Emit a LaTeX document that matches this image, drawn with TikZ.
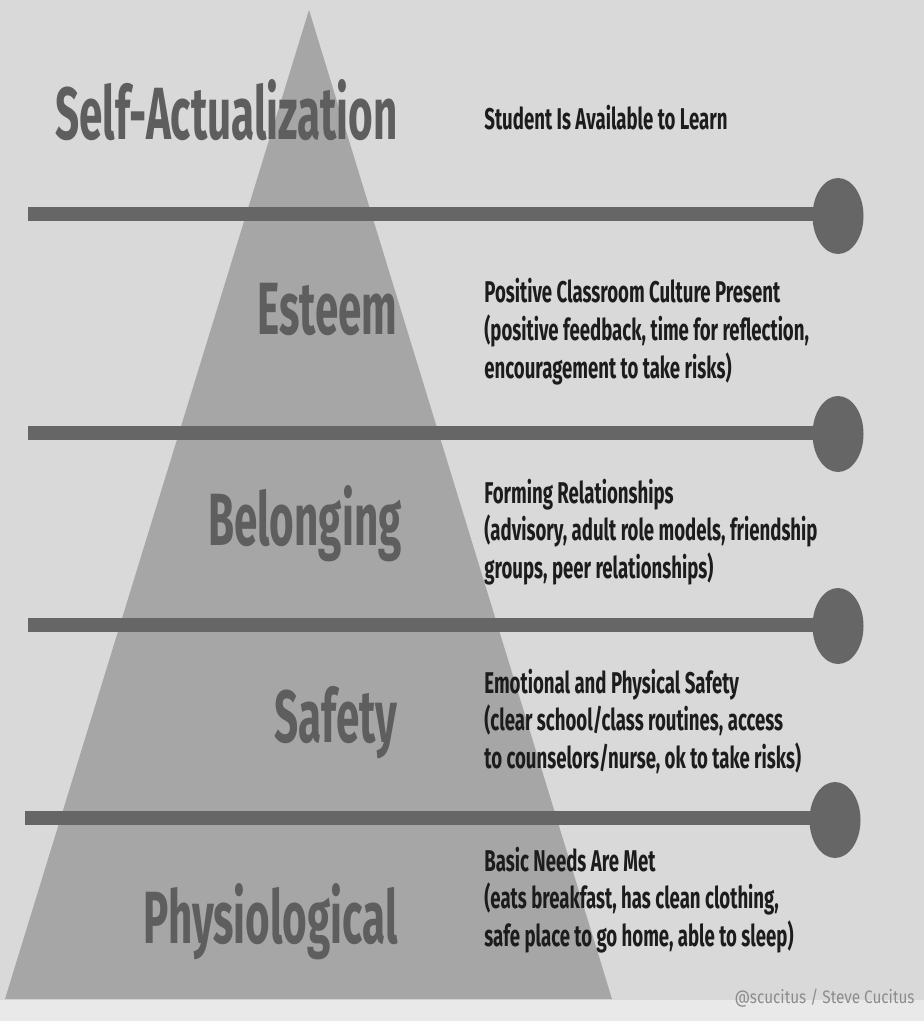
\documentclass[tikz,border=0pt]{standalone}
\usepackage{xcolor}
\usepackage{fontspec}
\usepackage{tikz}
\usetikzlibrary{calc,shapes.geometric}

\newfontfamily\headfont[FakeStretch=0.57]{Fira Sans}
\newfontfamily\notefont[FakeStretch=0.62]{Fira Sans}
\newfontfamily\creditfont[FakeStretch=0.85]{Fira Sans}

\definecolor{paper}{HTML}{D9D9D9}
\definecolor{strip}{HTML}{E9E9E9}
\definecolor{pyramid}{HTML}{A6A6A6}
\definecolor{railgray}{HTML}{666666}
\definecolor{headgray}{HTML}{5E5E5E}
\definecolor{notegray}{HTML}{1C1C1C}
\definecolor{creditgray}{HTML}{8C8C8C}

\tikzset{
  rail/.style={draw=railgray, line width=7pt},
  knob/.style={ellipse, fill=railgray, inner sep=0pt, minimum width=25.5pt, minimum height=38pt},
  level/.style={anchor=base east, inner sep=0pt, text=headgray, font=\headfont\bfseries\fontsize{37}{42}\selectfont},
  note/.style={anchor=base west, inner sep=0pt, align=left, text=notegray, font=\notefont\bfseries\fontsize{15}{18.75}\selectfont},
}

\begin{document}
\begin{tikzpicture}[x=0.5pt, y=-0.5pt]
\def\Left{28}
\def\Knob{838}
\def\Text{484}
\def\Edge{398}
  \path
    (0,0) coordinate (NW)
    (924,1021) coordinate (SE)
    (309,10) coordinate (A)
    (5,999) coordinate (B)
    (612,999) coordinate (C)
    (\Left,214) coordinate (r1)
    (\Left,433) coordinate (r2)
    (\Left,625) coordinate (r3)
    (25,818) coordinate (r4)
  ;
\useasboundingbox (NW) rectangle (SE);
\fill[paper] (NW) rectangle (SE);
\fill[strip] (0,1000) rectangle (SE);
\fill[pyramid] (A) -- (B) -- (C) -- cycle;

\node[knob] (k1) at (\Knob,216) {};
\node[knob] (k2) at (\Knob,434) {};
\node[knob] (k3) at (\Knob,626) {};
\node[knob] (k4) at (835,820) {};

\draw[rail] (r1) -- (r1 -| k1);
\draw[rail] (r2) -- (r2 -| k2);
\draw[rail] (r3) -- (r3 -| k3);
\draw[rail] (r4) -- (r4 -| k4);

\node[level] (self) at (\Edge,140) {Self-Actualization};
\node[level] (esteem) at (\Edge,335) {Esteem};
\node[level] (belong) at (402,545) {Belonging};
\node[level] (safety) at (\Edge,742) {Safety};
\node[level] (physio) at (\Edge,943) {Physiological};

% multi-line notes sit on the baseline of their last line
\node[note] (learn) at (\Text,130) {Student Is Available to Learn};
\node[note] (culture) at (\Text,378) {Positive Classroom Culture Present\\(positive feedback, time for reflection,\\encouragement to take risks)};
\node[note] (relate) at (\Text,578) {Forming Relationships\\(advisory, adult role models, friendship\\groups, peer relationships)};
\node[note] (secure) at (\Text,768) {Emotional and Physical Safety\\(clear school/class routines, access\\to counselors/nurse, ok to take risks)};
\node[note] (needs) at (\Text,946) {Basic Needs Are Met\\(eats breakfast, has clean clothing,\\safe place to go home, able to sleep)};

%\node[note] (credit) at (915,1003) {};
\node[anchor=base east, inner sep=0pt, text=creditgray, font=\creditfont\fontsize{9}{10}\selectfont] (credit) at (915,1003) {@scucitus / Steve Cucitus};

\end{tikzpicture}
\end{document}
